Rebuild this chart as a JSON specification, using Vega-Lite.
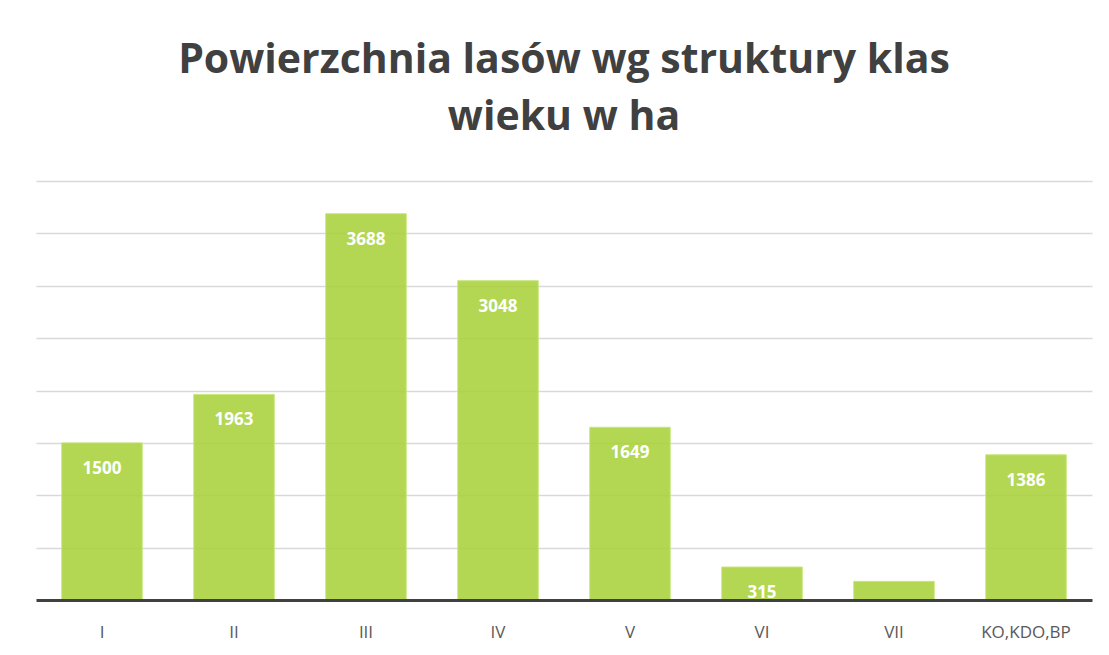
{
  "$schema": "https://vega.github.io/schema/vega-lite/v6.json",
  "autosize": "none",
  "width": 1056,
  "height": 419,
  "padding": {"left": 36, "top": 181, "right": 17, "bottom": 55},
  "background": "white",
  "title": {
    "text": ["Powierzchnia lasów wg struktury klas", "wieku w ha"],
    "font": "Open Sans",
    "fontSize": 41,
    "fontWeight": "bold",
    "color": "#404040",
    "anchor": "middle",
    "lineHeight": 57,
    "offset": 10,
    "baseline": "alphabetic"
  },
  "data": {
    "values": [
      {"klasa": "I", "ha": 1500},
      {"klasa": "II", "ha": 1963},
      {"klasa": "III", "ha": 3688},
      {"klasa": "IV", "ha": 3048},
      {"klasa": "V", "ha": 1649},
      {"klasa": "VI", "ha": 315},
      {"klasa": "VII", "ha": 178},
      {"klasa": "KO,KDO,BP", "ha": 1386}
    ]
  },
  "encoding": {
    "x": {
      "field": "klasa",
      "type": "nominal",
      "sort": null,
      "scale": {"paddingInner": 0.39, "paddingOuter": 0.195},
      "axis": {
        "title": null,
        "labelAngle": 0,
        "labelFont": "Open Sans",
        "labelFontSize": 17,
        "labelColor": "#595959",
        "labelPadding": 24,
        "ticks": false,
        "domainColor": "#404040",
        "domainWidth": 3,
        "zindex": 1
      }
    },
    "y": {
      "field": "ha",
      "type": "quantitative",
      "scale": {"domain": [0, 4000], "nice": false},
      "axis": {
        "title": null,
        "labels": false,
        "ticks": false,
        "domain": false,
        "values": [500, 1000, 1500, 2000, 2500, 3000, 3500, 4000],
        "gridColor": "#d9d9d9",
        "gridWidth": 1.3
      }
    }
  },
  "layer": [
    {
      "mark": {"type": "bar", "color": "#a8d13a", "fillOpacity": 0.88, "stroke": "#c8e67f", "strokeWidth": 1}
    },
    {
      "mark": {
        "type": "text",
        "baseline": "middle",
        "dy": 26,
        "font": "Open Sans",
        "fontSize": 17,
        "fontWeight": "bold",
        "color": "white"
      },
      "encoding": {"text": {"field": "ha", "type": "quantitative"}}
    }
  ],
  "config": {"view": {"stroke": null}}
}
